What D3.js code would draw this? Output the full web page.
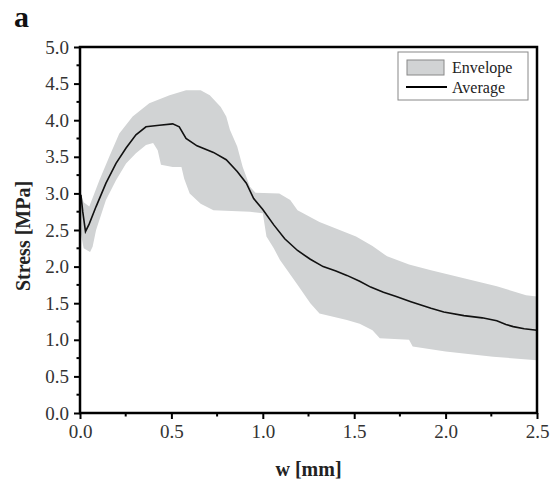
<!DOCTYPE html>
<html>
<head>
<meta charset="utf-8">
<script src="https://cdn.jsdelivr.net/npm/d3@7"></script>
<style>
  body { margin: 0; background: #fff; }
  text { font-family: "Liberation Serif", "Times New Roman", serif; }
</style>
</head>
<body>
<div id="chart"></div>
<script>
// average curve (w in mm, stress in MPa)
const avgW = [0.005, 0.015, 0.03, 0.05, 0.088, 0.142, 0.197, 0.252, 0.306, 0.361, 0.434, 0.507, 0.543, 0.58, 0.64, 0.73, 0.80, 0.86, 0.91, 0.95, 1.00, 1.06, 1.12, 1.19, 1.26, 1.33, 1.40, 1.46, 1.53, 1.59, 1.66, 1.73, 1.81, 1.92, 1.99, 2.10, 2.20, 2.28, 2.33, 2.37, 2.43, 2.50];
const avgS = [2.98, 2.75, 2.48, 2.58, 2.82, 3.14, 3.41, 3.62, 3.80, 3.91, 3.93, 3.95, 3.91, 3.75, 3.65, 3.56, 3.46, 3.30, 3.14, 2.93, 2.78, 2.57, 2.38, 2.22, 2.10, 2.00, 1.94, 1.88, 1.80, 1.72, 1.65, 1.59, 1.52, 1.43, 1.38, 1.33, 1.30, 1.26, 1.21, 1.18, 1.15, 1.13];

// envelope upper edge
const upW = [0.005, 0.02, 0.051, 0.106, 0.16, 0.215, 0.288, 0.379, 0.49, 0.58, 0.66, 0.71, 0.77, 0.80, 0.82, 0.86, 0.89, 0.93, 0.96, 1.09, 1.15, 1.19, 1.31, 1.51, 1.60, 1.68, 1.80, 1.92, 2.10, 2.28, 2.44, 2.50];
const upS = [3.00, 2.88, 2.82, 3.18, 3.50, 3.82, 4.05, 4.23, 4.34, 4.41, 4.41, 4.34, 4.18, 4.05, 3.87, 3.64, 3.36, 3.09, 3.01, 3.00, 2.91, 2.77, 2.61, 2.41, 2.28, 2.14, 2.03, 1.95, 1.84, 1.73, 1.61, 1.59];

// envelope lower edge
const loW = [0.005, 0.02, 0.055, 0.069, 0.088, 0.142, 0.197, 0.252, 0.306, 0.361, 0.40, 0.425, 0.443, 0.507, 0.555, 0.57, 0.60, 0.66, 0.73, 0.93, 1.00, 1.02, 1.06, 1.094, 1.185, 1.26, 1.31, 1.46, 1.53, 1.60, 1.64, 1.80, 1.82, 2.00, 2.26, 2.50];
const loS = [2.45, 2.25, 2.20, 2.27, 2.50, 2.91, 3.18, 3.41, 3.55, 3.66, 3.69, 3.59, 3.39, 3.36, 3.36, 3.20, 3.00, 2.86, 2.77, 2.75, 2.73, 2.41, 2.25, 2.09, 1.77, 1.50, 1.36, 1.27, 1.22, 1.13, 1.02, 1.00, 0.91, 0.84, 0.77, 0.72];

const xTicks = [0, 0.5, 1.0, 1.5, 2.0, 2.5];
const yTicks = [0, 0.5, 1.0, 1.5, 2.0, 2.5, 3.0, 3.5, 4.0, 4.5, 5.0];
const xMinor = [0.25, 0.75, 1.25, 1.75, 2.25];
const yMinor = [0.25, 0.75, 1.25, 1.75, 2.25, 2.75, 3.25, 3.75, 4.25, 4.75];

const W = 552, H = 484;
const padL = 80, padR = 537, padT = 47, padB = 413;

const svg = d3.select("#chart").append("svg").attr("width", W).attr("height", H);

const x = d3.scaleLinear().domain([0, 2.5]).range([padL, padR]);
const y = d3.scaleLinear().domain([0, 5]).range([padB, padT]);

// envelope polygon: upper edge forward, lower edge backward
const upPts = upW.map((d, i) => [d, upS[i]]);
const loPts = loW.map((d, i) => [d, loS[i]]).reverse();
const line = d3.line().x(d => x(d[0])).y(d => y(d[1]));

svg.append("path")
  .attr("d", line(upPts.concat(loPts)) + "Z")
  .attr("fill", "#d1d3d4");

svg.append("path")
  .attr("d", line(avgW.map((d, i) => [d, avgS[i]])))
  .attr("fill", "none")
  .attr("stroke", "#111")
  .attr("stroke-width", 1.6);

// frame
svg.append("rect")
  .attr("x", padL).attr("y", padT)
  .attr("width", padR - padL).attr("height", padB - padT)
  .attr("fill", "none").attr("stroke", "#000").attr("stroke-width", 2.5);

// axes
const xAxis = d3.axisBottom(x).tickValues(xTicks).tickFormat(d3.format(".1f")).tickSize(6).tickPadding(6);
const yAxis = d3.axisLeft(y).tickValues(yTicks).tickFormat(d3.format(".1f")).tickSize(6).tickPadding(5);

const gx = svg.append("g").attr("transform", "translate(0," + padB + ")").call(xAxis);
const gy = svg.append("g").attr("transform", "translate(" + padL + ",0)").call(yAxis);

[gx, gy].forEach(g => {
  g.select(".domain").remove();
  g.selectAll(".tick line").attr("stroke", "#000").attr("stroke-width", 2);
  g.selectAll(".tick text")
    .attr("fill", "#333")
    .style("font-family", '"Liberation Serif", "Times New Roman", serif')
    .style("font-size", "19px");
});

// minor ticks
svg.selectAll(".xminor").data(xMinor).enter().append("line")
  .attr("x1", d => x(d)).attr("x2", d => x(d))
  .attr("y1", padB).attr("y2", padB + 3.5)
  .attr("stroke", "#000").attr("stroke-width", 2);
svg.selectAll(".yminor").data(yMinor).enter().append("line")
  .attr("x1", padL - 3.5).attr("x2", padL)
  .attr("y1", d => y(d)).attr("y2", d => y(d))
  .attr("stroke", "#000").attr("stroke-width", 2);

// titles
svg.append("text")
  .attr("x", (padL + padR) / 2).attr("y", 476)
  .attr("text-anchor", "middle")
  .style("font-size", "20px").style("font-weight", "bold").attr("fill", "#222")
  .text("w [mm]");

svg.append("text")
  .attr("transform", "translate(30," + ((padT + padB) / 2 + 6) + ") rotate(-90)")
  .attr("text-anchor", "middle")
  .style("font-size", "20px").style("font-weight", "bold").attr("fill", "#222")
  .text("Stress [MPa]");

svg.append("text")
  .attr("x", 14).attr("y", 27)
  .style("font-size", "30px").style("font-weight", "bold").attr("fill", "#111")
  .text("a");

// legend
const lg = svg.append("g");
lg.append("rect")
  .attr("x", 398).attr("y", 52).attr("width", 130).attr("height", 48)
  .attr("fill", "#fff").attr("stroke", "#888").attr("stroke-width", 1);
lg.append("rect")
  .attr("x", 407).attr("y", 60).attr("width", 37).attr("height", 15)
  .attr("fill", "#d1d3d4").attr("stroke", "#888").attr("stroke-width", 1);
lg.append("line")
  .attr("x1", 406).attr("x2", 447).attr("y1", 87).attr("y2", 87)
  .attr("stroke", "#000").attr("stroke-width", 2);
lg.append("text").attr("x", 452).attr("y", 73)
  .style("font-size", "16px").attr("fill", "#222").text("Envelope");
lg.append("text").attr("x", 452).attr("y", 93)
  .style("font-size", "16px").attr("fill", "#222").text("Average");
</script>
</body>
</html>
